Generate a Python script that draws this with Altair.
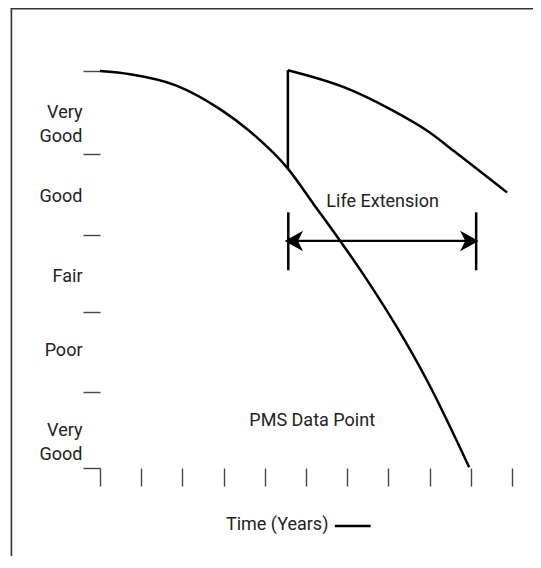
import altair as alt
import pandas as pd

# ---- data ----
time_main = [0.0, 0.73, 1.84, 2.94, 3.59, 4.56, 5.19, 5.83, 6.48, 7.21, 7.96, 8.96]
cond_main = [5.00, 4.96, 4.82, 4.51, 4.26, 3.77, 3.32, 2.86, 2.37, 1.77, 1.08, 0.01]

time_treated = [4.56, 5.95, 7.04, 7.96, 8.62, 9.88]
cond_treated = [5.01, 4.79, 4.52, 4.24, 3.98, 3.47]

jump_time = [4.56]
jump_from = [3.77]
jump_to = [5.01]

ext_bars_time = [4.57, 9.13]
ext_bar_low = 2.49
ext_bar_high = 3.22
arrow_start = 4.73
arrow_end = 8.94
arrow_level = 2.86

cond_labels = ["Very\nGood", "Poor", "Fair", "Good", "Very\nGood"]
cond_label_pos = [0.46, 1.47, 2.40, 3.41, 4.47]
cond_ticks = [0, 0.96, 1.96, 2.93, 3.95, 5]
time_ticks = list(range(0, 11))

annotations = ["Life Extension", "PMS Data Point", "Time (Years)"]
ann_time = [6.86, 5.15, 4.30]
ann_cond = [3.35, 0.59, -0.72]
legend_dash_time = [5.70, 6.57]
legend_dash_cond = -0.73

FONT = "Roboto"

# ---- tables ----
main_df = pd.DataFrame({"t": time_main, "c": cond_main})
treated_df = pd.DataFrame({"t": time_treated, "c": cond_treated})
jump_df = pd.DataFrame({"t": jump_time, "c": jump_from, "c2": jump_to})
bars_df = pd.DataFrame({"t": ext_bars_time, "c": [ext_bar_low] * 2, "c2": [ext_bar_high] * 2})
arrow_df = pd.DataFrame({"t": [arrow_start], "t2": [arrow_end], "c": [arrow_level]})
heads_df = pd.DataFrame({"t": [arrow_start, arrow_end], "c": [arrow_level] * 2, "ang": [0, 180]})
labels_df = pd.DataFrame({"lab": cond_labels, "c": cond_label_pos})
ann_df = pd.DataFrame({"lab": annotations, "t": ann_time, "c": ann_cond})
dash_df = pd.DataFrame({"t": [legend_dash_time[0]], "t2": [legend_dash_time[1]], "c": [legend_dash_cond]})
axis_df = pd.DataFrame({"t": [0.0], "c": [0.0]})

xs = alt.Scale(domain=[0, 10], nice=False, zero=False)
ys = alt.Scale(domain=[0, 5], nice=False, zero=False)

x_axis = alt.Axis(values=time_ticks, labels=False, domain=False, grid=False, title=None,
                  tickSize=18, tickColor="#444", tickWidth=1.4, orient="bottom")
y_axis = alt.Axis(values=cond_ticks, labels=False, domain=False, grid=False, title=None,
                  tickSize=17, tickColor="#444", tickWidth=1.4, orient="left")

axes = alt.Chart(axis_df).mark_point(opacity=0).encode(
    x=alt.X("t:Q", scale=xs, axis=x_axis),
    y=alt.Y("c:Q", scale=ys, axis=y_axis),
)

main_line = alt.Chart(main_df).mark_line(color="black", strokeWidth=2.5, interpolate="monotone").encode(
    x=alt.X("t:Q", scale=xs), y=alt.Y("c:Q", scale=ys))

treated_line = alt.Chart(treated_df).mark_line(color="black", strokeWidth=2.5, interpolate="monotone").encode(
    x=alt.X("t:Q", scale=xs), y=alt.Y("c:Q", scale=ys))

jump = alt.Chart(jump_df).mark_rule(color="black", strokeWidth=2.5).encode(
    x=alt.X("t:Q", scale=xs), y=alt.Y("c:Q", scale=ys), y2="c2:Q")

bars = alt.Chart(bars_df).mark_rule(color="black", strokeWidth=2.5).encode(
    x=alt.X("t:Q", scale=xs), y=alt.Y("c:Q", scale=ys), y2="c2:Q")

arrow = alt.Chart(arrow_df).mark_rule(color="black", strokeWidth=2.2).encode(
    x=alt.X("t:Q", scale=xs), x2="t2:Q", y=alt.Y("c:Q", scale=ys))

head_path = "M -1 0 L 0.8 -1 L 0.3 0 L 0.8 1 Z"
heads = alt.Chart(heads_df).mark_point(shape=head_path, filled=True, color="black",
                                       opacity=1, size=420, strokeWidth=0).encode(
    x=alt.X("t:Q", scale=xs), y=alt.Y("c:Q", scale=ys),
    angle=alt.Angle("ang:Q", scale=None))

cond_text = alt.Chart(labels_df).mark_text(align="right", baseline="middle", font=FONT,
                                            fontSize=18, lineBreak="\n", lineHeight=24,
                                            color="#222").encode(
    x=alt.value(-17.5), y=alt.Y("c:Q", scale=ys), text="lab:N")

ann_text = alt.Chart(ann_df).mark_text(align="center", baseline="middle", font=FONT,
                                        fontSize=18, color="#222").encode(
    x=alt.X("t:Q", scale=xs), y=alt.Y("c:Q", scale=ys), text="lab:N")

dash = alt.Chart(dash_df).mark_rule(color="black", strokeWidth=2.5).encode(
    x=alt.X("t:Q", scale=xs), x2="t2:Q", y=alt.Y("c:Q", scale=ys))

frame_left = alt.Chart(axis_df).mark_rule(color="#333", strokeWidth=1.6).encode(
    x=alt.value(-88.6), y=alt.value(-62.2), y2=alt.value(500))
frame_top = alt.Chart(axis_df).mark_rule(color="#333", strokeWidth=1.6).encode(
    x=alt.value(-89.4), x2=alt.value(440), y=alt.value(-62.2))

chart = alt.layer(
    axes, frame_left, frame_top, main_line, treated_line, jump, bars, arrow, heads,
    cond_text, ann_text, dash,
).properties(
    width=412, height=397,
    padding={"left": 92, "top": 63, "right": 21, "bottom": 88},
    autosize="none",
    background="white",
).configure_view(stroke=None)

chart.save("out.html", embed_options={"renderer": "svg", "actions": False})
